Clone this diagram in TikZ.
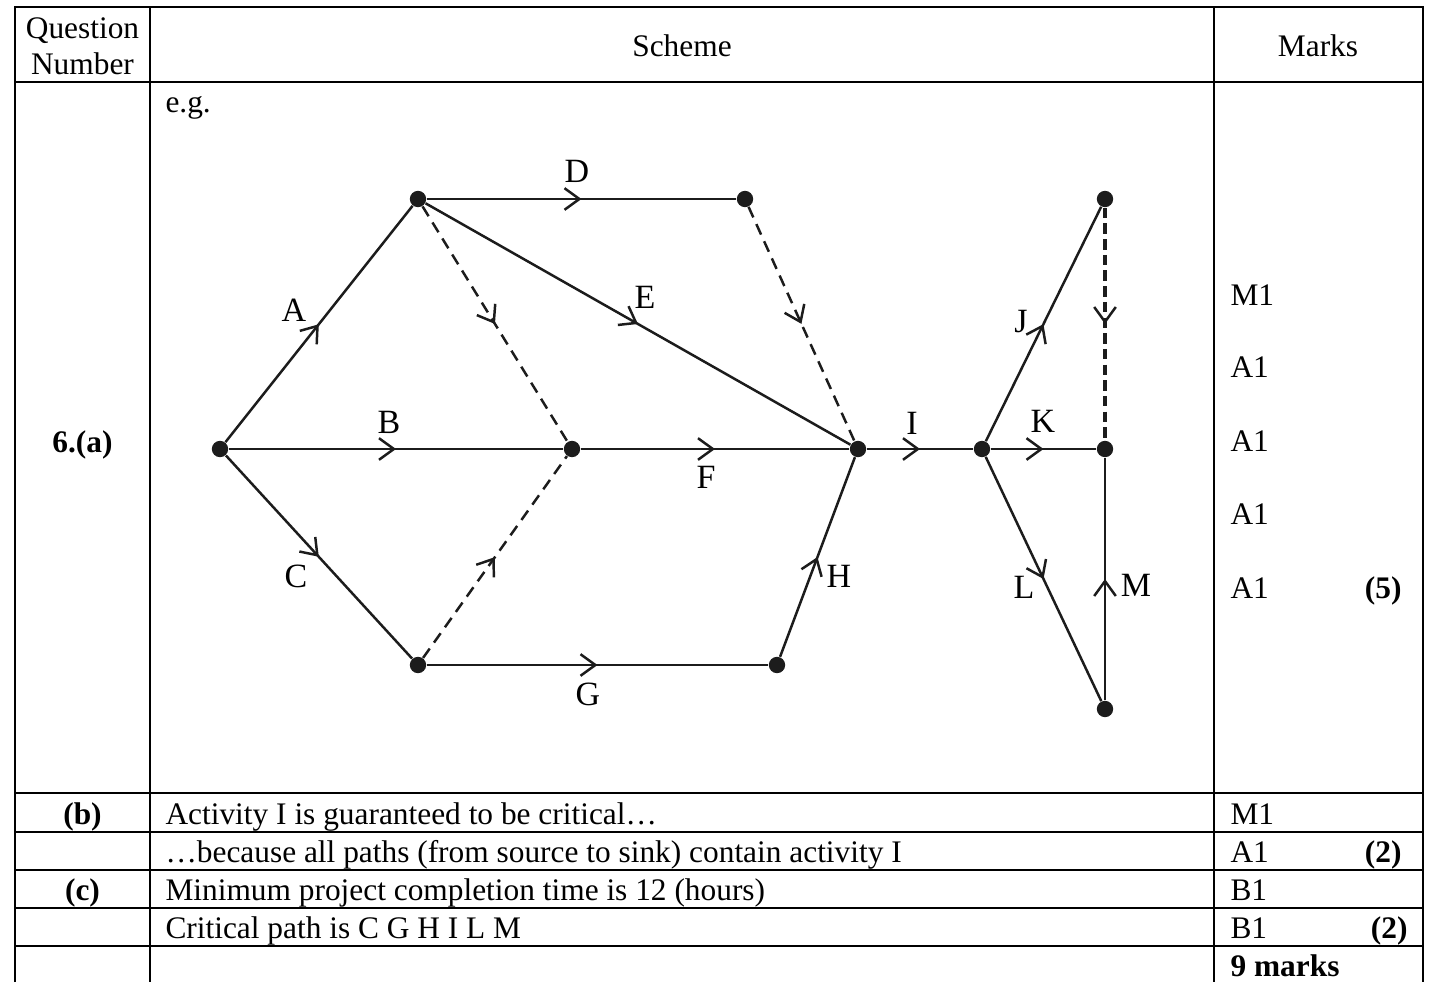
\documentclass[tikz,border=0pt]{standalone}
\usepackage{fontspec}
\setmainfont{Liberation Serif}
\usetikzlibrary{arrows.meta,decorations.markings}

\definecolor{schemeInk}{RGB}{28,28,28}
\definecolor{schemeRule}{RGB}{0,0,0}

\begin{document}
\begin{tikzpicture}[x=.01344cm,y=-.01344cm,
      rule/.style={draw=schemeRule, line width=1pt},
      cell/.style={font=\fontsize{12}{13.7}\selectfont, anchor=base west,
        inner sep=0pt},
      head/.style={font=\fontsize{12}{13.7}\selectfont, align=center,
        inner sep=0pt},
      part/.style={font=\fontsize{12}{13.7}\selectfont\bfseries,
        anchor=base, inner sep=0pt},
      total/.style={font=\fontsize{12}{13.7}\selectfont\bfseries,
        anchor=base east, inner sep=0pt},
      event/.style={circle, fill=schemeInk, inner sep=0pt,
        minimum size=2.2mm},
      activity/.style={draw=schemeInk, line width=.95pt,
        postaction={decorate}, decoration={markings,
          mark=at position .5 with {\arrow[line width=.95pt,solid]
            {Straight Barb[length=2mm,width=2.9mm]}}}},
      dummy/.style={activity, dash pattern=on 4.4pt off 2.8pt},
      letter/.style={font=\fontsize{13}{15}\selectfont, inner sep=0pt}]
      \useasboundingbox (0,0) rectangle (1431,982);

      % table rules
      \draw[rule] (15,982) -- (15,7) -- (1423,7) -- (1423,982);
      \draw[rule] (150,7) -- (150,982) (1214,7) -- (1214,982);
      \foreach \y in {82,793,832,870,908,946}
        \draw[rule] (15,\y) -- (1423,\y);

      % header
      \node[head] (hQn) at (82.5,46) {Question\\Number};
      \node[head] (hSc) at (682,46) {Scheme};
      \node[head] (hMk) at (1318,46) {Marks};

      % part (a)
      \node[cell] (exg) at (165,112) {e.g.};
      \node[part] (pA) at (82.5,452) {6.(a)};
      \foreach[count=\i] \m/\y in {M1/305,A1/377,A1/451,A1/524,A1/598}
        \node[cell] (mA\i) at (1230,\y) {\m};
      \node[total] (tA) at (1402,598) {(5)};

      % events
      \node[event] (src) at (220,449) {};
      \node[event] (ea) at (418,199) {};
      \node[event] (ed) at (745,199) {};
      \node[event] (eb) at (572,449) {};
      \node[event] (ec) at (418,665) {};
      \node[event] (eg) at (777,665) {};
      \node[event] (ef) at (858,449) {};
      \node[event] (ei) at (982,449) {};
      \node[event] (ej) at (1105,199) {};
      \node[event] (ek) at (1105,449) {};
      \node[event] (el) at (1105,709) {};

      % activities
      \draw[activity] (src) -- (ea);
      \draw[activity] (src) -- (eb);
      \draw[activity] (src) -- (ec);
      \draw[activity] (ea) -- (ed);
      \draw[activity] (ea) -- (ef);
      \draw[dummy] (ea) -- (eb);
      \draw[dummy] (ed) -- (ef);
      \draw[dummy] (ec) -- (eb);
      \draw[activity] (eb) -- (ef);
      \draw[activity] (ec) -- (eg);
      \draw[activity] (eg) -- (ef);
      \draw[activity] (ef) -- (ei);
      \draw[activity] (ei) -- (ej);
      \draw[activity] (ei) -- (ek);
      \draw[dummy, line width=1.35pt, dash pattern=on 4pt off 2pt]
        (ej) -- (ek);
      \draw[activity] (ei) -- (el);
      \draw[activity] (el) -- (ek);

      \node[letter] (lA) at (294,310) {A};
      \node[letter] (lB) at (389,422) {B};
      \node[letter] (lC) at (296,576) {C};
      \node[letter] (lD) at (577,171) {D};
      \node[letter] (lE) at (645,297) {E};
      \node[letter] (lF) at (706,477) {F};
      \node[letter] (lG) at (588,694) {G};
      \node[letter] (lH) at (839,576) {H};
      \node[letter] (lI) at (912,423) {I};
      \node[letter] (lJ) at (1021,322) {J};
      \node[letter] (lK) at (1043,421) {K};
      \node[letter] (lL) at (1024,587) {L};
      \node[letter] (lM) at (1136,585) {M};

      % parts (b) and (c)
      \node[part] (pB) at (82.5,824) {(b)};
      \node[cell] (sB1) at (165,824)
        {Activity I is guaranteed to be critical…};
      \node[cell] (mB1) at (1230,824) {M1};
      \node[cell] (sB2) at (165,862)
        {…because all paths (from source to sink) contain activity I};
      \node[cell] (mB2) at (1230,862) {A1};
      \node[total] (tB) at (1402,862) {(2)};
      \node[part] (pC) at (82.5,900) {(c)};
      \node[cell] (sC1) at (165,900)
        {Minimum project completion time is 12 (hours)};
      \node[cell] (mC1) at (1230,900) {B1};
      \node[cell] (sC2) at (165,938) {Critical path is C G H I L M};
      \node[cell] (mC2) at (1230,938) {B1};
      \node[total] (tC) at (1408,938) {(2)};
      \node[cell, font=\fontsize{12}{13.7}\selectfont\bfseries] (tot)
        at (1230,976) {9 marks};
    \end{tikzpicture}
\end{document}
